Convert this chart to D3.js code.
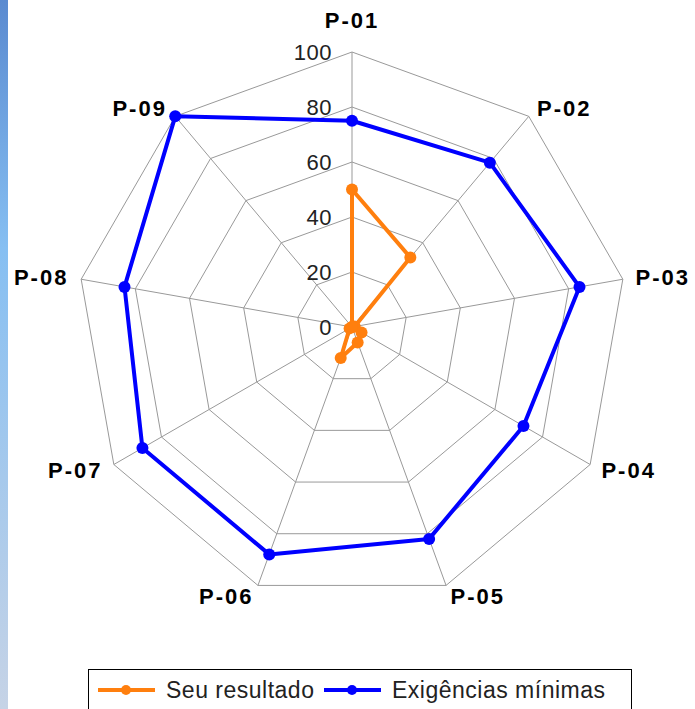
<!DOCTYPE html>
<html>
<head>
<meta charset="utf-8">
<script src="https://cdn.jsdelivr.net/npm/d3@7"></script>
<style>
  body { margin: 0; background: #fff; }
  svg { display: block; font-family: "Liberation Sans", Arial, sans-serif; }
</style>
</head>
<body>
<svg id="chart" width="695" height="709"></svg>
<script>
const categories = ['P-01', 'P-02', 'P-03', 'P-04', 'P-05', 'P-06', 'P-07', 'P-08', 'P-09']
const seuResultado = [50, 33, 1, 4, 6, 12, 1, 0, 0]
const exigencias = [75, 78, 84, 72, 82, 88, 88, 84, 100]
const ticks = [0, 20, 40, 60, 80, 100]

const series = [
  {name: 'Seu resultado', color: '#ff7f0e', values: seuResultado},
  {name: 'Exigências mínimas', color: '#0000ff', values: exigencias}
]

const svg = d3.select('#chart')
const cx = 352, cy = 327, R = 275

// blue strip on the left edge
const grad = svg.append('defs').append('linearGradient')
  .attr('id', 'strip').attr('x1', 0).attr('y1', 0).attr('x2', 0).attr('y2', 1)
grad.append('stop').attr('offset', '0%').attr('stop-color', '#5a8ad0')
grad.append('stop').attr('offset', '35%').attr('stop-color', '#86bff2')
grad.append('stop').attr('offset', '100%').attr('stop-color', '#c6d3e6')
svg.append('rect').attr('x', 0).attr('y', 0).attr('width', 8).attr('height', 709)
  .attr('fill', 'url(#strip)')

const r = d3.scaleLinear().domain([0, 100]).range([0, R])
const angle = d3.scalePoint().domain(categories).range([0, 2 * Math.PI * (1 - 1 / categories.length)])

const pt = (cat, v) => {
  const a = angle(cat)
  return [cx + r(v) * Math.sin(a), cy - r(v) * Math.cos(a)]
}

const g = svg.append('g')

// grid rings
g.selectAll('.ring').data(ticks.slice(1)).enter().append('polygon')
  .attr('class', 'ring')
  .attr('points', t => categories.map(c => pt(c, t)).join(' '))
  .attr('fill', 'none').attr('stroke', '#999').attr('stroke-width', 1)

// spokes
g.selectAll('.spoke').data(categories).enter().append('line')
  .attr('x1', cx).attr('y1', cy)
  .attr('x2', c => pt(c, 100)[0]).attr('y2', c => pt(c, 100)[1])
  .attr('stroke', '#999').attr('stroke-width', 1)

// tick labels along first axis
g.selectAll('.tick').data(ticks).enter().append('text')
  .attr('x', cx - 20).attr('y', t => cy - r(t))
  .attr('dy', '0.36em')
  .attr('text-anchor', 'end')
  .attr('font-size', 22).attr('fill', '#222')
  .attr('letter-spacing', 0.5)
  .text(t => t)

// category labels
g.selectAll('.cat').data(categories).enter().append('text')
  .attr('x', c => pt(c, 100)[0] + 13 * Math.sin(angle(c)))
  .attr('y', c => {
    const a = angle(c)
    return Math.abs(Math.sin(a)) < 0.01 ? pt(c, 100)[1] - 32 : pt(c, 100)[1] - 11 * Math.cos(a)
  })
  .attr('dy', '0.36em')
  .attr('text-anchor', c => {
    const s = Math.sin(angle(c))
    return Math.abs(s) < 0.01 ? 'middle' : (s > 0 ? 'start' : 'end')
  })
  .attr('font-size', 22).attr('font-weight', 'bold').attr('fill', '#000')
  .attr('letter-spacing', 2)
  .text(c => c)

// series
const line = d3.line().curve(d3.curveLinearClosed)
series.forEach(s => {
  const pts = categories.map((c, i) => pt(c, s.values[i]))
  g.append('path')
    .attr('d', line(pts))
    .attr('fill', 'none').attr('stroke', s.color).attr('stroke-width', 4)
    .attr('stroke-linejoin', 'round')
  g.selectAll(null).data(pts).enter().append('circle')
    .attr('cx', d => d[0]).attr('cy', d => d[1]).attr('r', 6)
    .attr('fill', s.color)
})

// legend
const legend = svg.append('g')
legend.append('rect').attr('x', 88.5).attr('y', 669.5).attr('width', 543).attr('height', 50)
  .attr('fill', '#fff').attr('stroke', '#000').attr('stroke-width', 1)
const legendX = [98, 324]
series.forEach((s, i) => {
  const x = legendX[i]
  legend.append('line').attr('x1', x).attr('x2', x + 57).attr('y1', 690).attr('y2', 690)
    .attr('stroke', s.color).attr('stroke-width', 4)
  legend.append('circle').attr('cx', x + 28).attr('cy', 690).attr('r', 5).attr('fill', s.color)
  legend.append('text').attr('x', x + 68).attr('y', 690).attr('dy', '0.36em')
    .attr('font-size', 23).attr('fill', '#222').attr('letter-spacing', 0.5)
    .text(s.name)
})
</script>
</body>
</html>
